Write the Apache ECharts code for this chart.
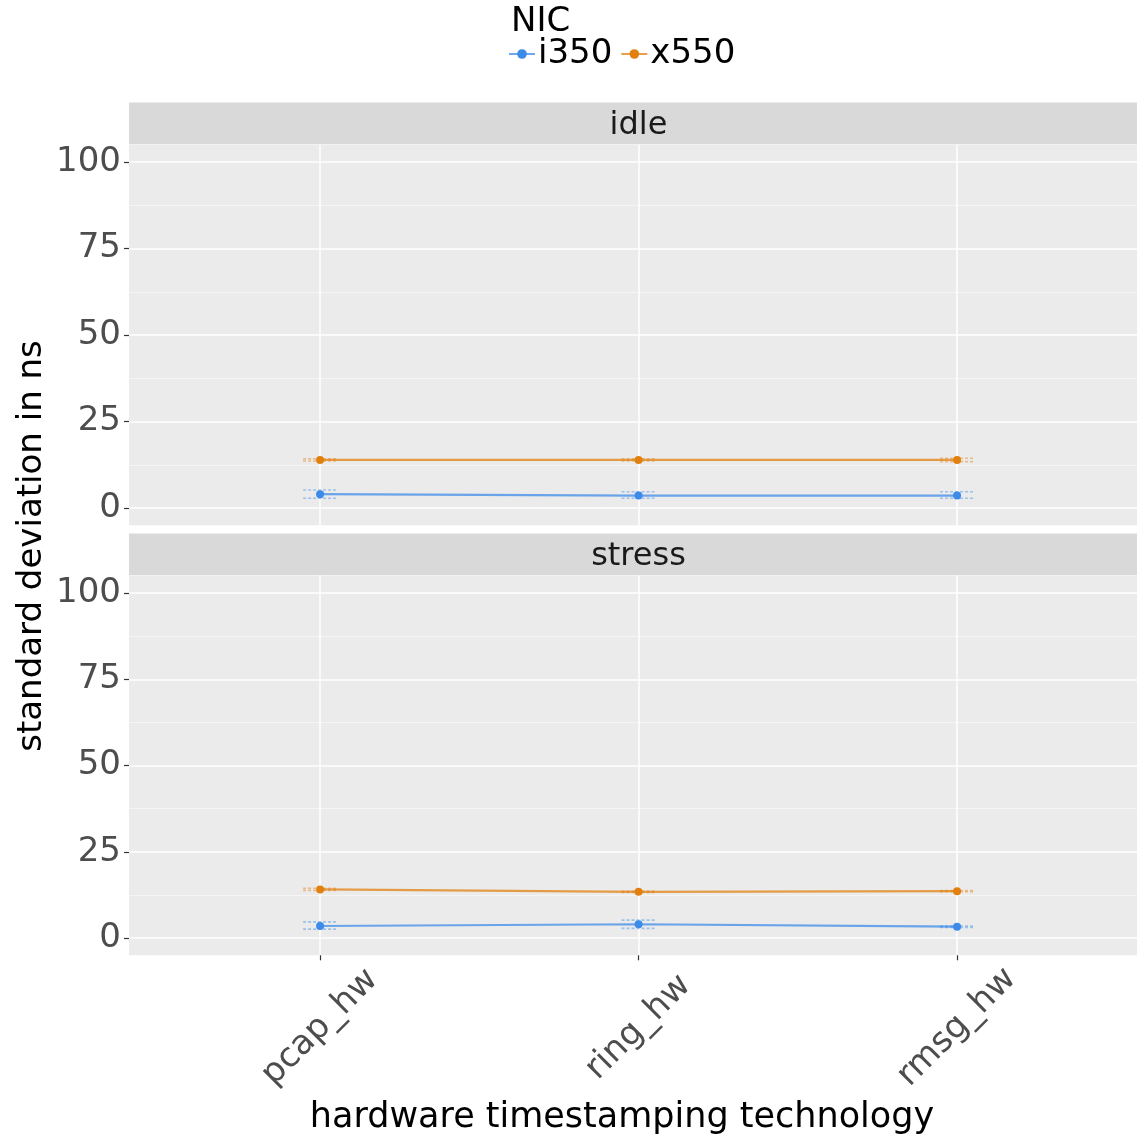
<!DOCTYPE html>
<html>
<head>
<meta charset="utf-8">
<script src="https://cdn.jsdelivr.net/npm/echarts@6/dist/echarts.min.js"></script>
<style>html,body{margin:0;padding:0;background:#fff}#c{width:1137px;height:1140px}</style>
</head>
<body>
<div id="c"></div>
<script>
const categories = ['pcap_hw', 'ring_hw', 'rmsg_hw'];
const panels = ['idle', 'stress'];
const nics = ['i350', 'x550'];
const yTicks = [0, 25, 50, 75, 100];
const yMinor = [12.5, 37.5, 62.5, 87.5];

const idle_i350 = [4.0, 3.6, 3.6];
const idle_i350_lo = [2.8, 2.8, 2.8];
const idle_i350_hi = [5.2, 4.7, 4.7];
const idle_x550 = [13.9, 13.9, 13.9];
const idle_x550_lo = [13.6, 13.6, 13.4];
const idle_x550_hi = [14.2, 14.2, 14.4];

const stress_i350 = [3.5, 4.0, 3.3];
const stress_i350_lo = [2.6, 2.8, 3.1];
const stress_i350_hi = [4.7, 5.2, 3.5];
const stress_x550 = [14.1, 13.4, 13.6];
const stress_x550_lo = [13.8, 13.2, 13.4];
const stress_x550_hi = [14.4, 13.6, 13.8];

const colors = {i350: '#3d8be8', x550: '#e2800f'};
const FONT = 'DejaVu Sans';

const chart = echarts.init(document.getElementById('c'), null, {renderer: 'canvas'});

const grids = [
  {left: 129, right: 0, top: 144.7, height: 380.6, show: true, backgroundColor: '#ebebeb', borderWidth: 0},
  {left: 129, right: 0, top: 575.8, height: 379.5, show: true, backgroundColor: '#ebebeb', borderWidth: 0}
];

const xAxes = [0, 1].map(g => ({
  type: 'value', gridIndex: g, min: -0.6, max: 2.565,
  axisLine: {show: false, onZero: false},
  axisTick: {show: g === 1, customValues: [0, 1, 2], length: 5, lineStyle: {color: '#333', width: 1.2}},
  axisLabel: {show: g === 1, customValues: [0, 1, 2], rotate: 45, margin: 72,
    align: 'center', verticalAlign: 'middle',
    formatter: v => categories[Math.round(v)], color: '#4d4d4d', fontSize: 34, fontFamily: FONT},
  splitLine: {show: true, lineStyle: {color: '#ffffff', width: 1.5}}
}));

const yAxes = [];
[0, 1].forEach(g => {
  yAxes.push({
    type: 'value', gridIndex: g, min: -5, max: 105,
    axisLine: {show: false, onZero: false},
    axisTick: {show: true, customValues: yTicks, length: 5, lineStyle: {color: '#333', width: 1.2}},
    axisLabel: {show: true, customValues: yTicks, margin: 8, color: '#4d4d4d', fontSize: 34, fontFamily: FONT},
    splitLine: {show: true, lineStyle: {color: '#ffffff', width: 1.5}}
  });
  yAxes.push({
    type: 'value', gridIndex: g, min: -5, max: 105, position: 'left',
    axisLine: {show: false, onZero: false},
    axisTick: {show: false, customValues: yMinor},
    axisLabel: {show: false, customValues: yMinor},
    splitLine: {show: true, lineStyle: {color: '#f7f7f7', width: 0.8}}
  });
});

function errSeries(name, g, lo, hi) {
  return {
    type: 'custom', name: name, xAxisIndex: g, yAxisIndex: g * 2,
    data: categories.map((c, i) => [i, lo[i], hi[i]]),
    encode: {x: 0, y: [1, 2]},
    itemStyle: {color: colors[name]},
    z: 3,
    renderItem: function (params, api) {
      const x = api.value(0);
      const pl = api.coord([x, api.value(1)]);
      const ph = api.coord([x, api.value(2)]);
      const hw = 17;
      const st = {stroke: colors[name], lineWidth: 1.6, lineDash: [3, 2], opacity: 0.45};
      return {type: 'group', children: [
        {type: 'line', shape: {x1: pl[0] - hw, y1: pl[1], x2: pl[0] + hw, y2: pl[1]}, style: st},
        {type: 'line', shape: {x1: ph[0] - hw, y1: ph[1], x2: ph[0] + hw, y2: ph[1]}, style: st}
      ]};
    }
  };
}

function lineSeries(name, g, vals) {
  return {
    type: 'line', name: name, xAxisIndex: g, yAxisIndex: g * 2,
    data: categories.map((c, i) => [i, vals[i]]),
    symbol: 'circle', symbolSize: 8, showSymbol: true,
    itemStyle: {color: colors[name]},
    lineStyle: {color: colors[name], width: 2.2, opacity: 0.75},
    z: 4, animation: false
  };
}

const series = [
  lineSeries('i350', 0, idle_i350),
  lineSeries('x550', 0, idle_x550),
  lineSeries('i350', 1, stress_i350),
  lineSeries('x550', 1, stress_x550),
  errSeries('i350', 0, idle_i350_lo, idle_i350_hi),
  errSeries('x550', 0, idle_x550_lo, idle_x550_hi),
  errSeries('i350', 1, stress_i350_lo, stress_i350_hi),
  errSeries('x550', 1, stress_x550_lo, stress_x550_hi)
];

const stripH = 41.7;
const graphic = [];
[0, 1].forEach(g => {
  const top = grids[g].top - stripH;
  graphic.push({type: 'rect', left: 129, top: top - 0.5, shape: {width: 1008, height: stripH}, style: {fill: '#d9d9d9'}, silent: true});
  graphic.push({type: 'text', x: 638.5, y: top + stripH / 2 + 1.5, style: {text: panels[g], fill: '#1a1a1a', fontSize: 32, fontFamily: FONT, align: 'center', verticalAlign: 'middle'}});
});
graphic.push({type: 'text', x: 511, y: 22, style: {text: 'NIC', fill: '#000', fontSize: 34, fontFamily: FONT, align: 'left', verticalAlign: 'middle'}});
graphic.push({type: 'text', x: 32, y: 546, rotation: Math.PI / 2, style: {text: 'standard deviation in ns', fill: '#000', fontSize: 34, fontFamily: FONT, align: 'center', verticalAlign: 'middle'}});
graphic.push({type: 'text', x: 622, y: 1118, style: {text: 'hardware timestamping technology', fill: '#000', fontSize: 35, fontFamily: FONT, align: 'center', verticalAlign: 'middle'}});

chart.setOption({
  animation: false,
  backgroundColor: '#ffffff',
  grid: grids,
  xAxis: xAxes,
  yAxis: yAxes,
  legend: {
    data: nics, left: 508, top: 37, padding: 0, itemGap: 8, itemWidth: 26, itemHeight: 12,
    textStyle: {fontSize: 34, fontFamily: FONT, color: '#000', padding: [0, 0, 0, -2]}
  },
  graphic: graphic,
  series: series
});
</script>
</body>
</html>
